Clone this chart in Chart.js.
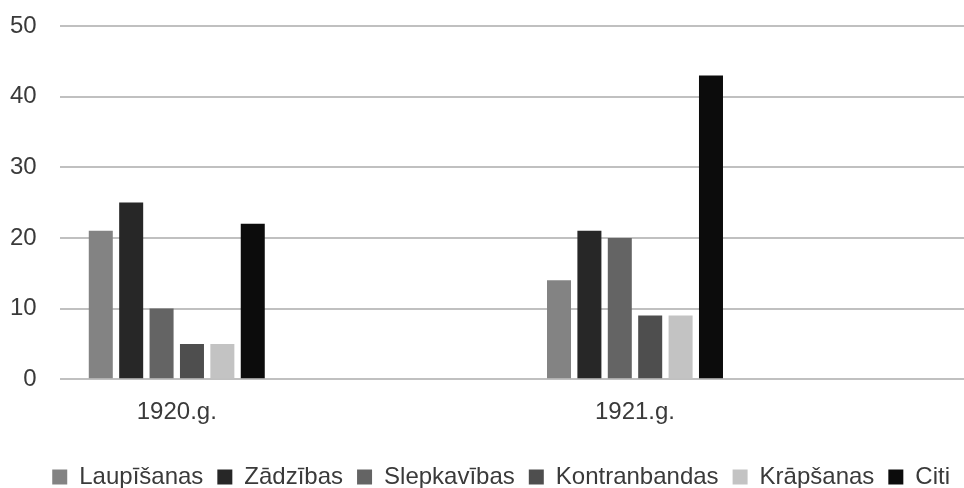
<!DOCTYPE html>
<html lang="lv">
<head>
  <meta charset="UTF-8" />
  <title>Noziegumi 1920.g. un 1921.g.</title>
  <script src="https://cdn.jsdelivr.net/npm/chart.js"></script>
  <style>
    html, body {
      margin: 0;
      padding: 0;
      background: #ffffff;
    }

    .wrap {
      width: 964px;
      height: 488px;
    }
  </style>
</head>
<body>

<div class="wrap">
  <canvas id="crimeChart"></canvas>
</div>

<script>
  // categories and series
  const years = ['1920.g.', '1921.g.'];
  const seriesNames = ['Laupīšanas', 'Zādzības', 'Slepkavības', 'Kontranbandas', 'Krāpšanas', 'Citi'];

  const laupisanas = [21, 14];
  const zadzibas = [25, 21];
  const slepkavibas = [10, 20];
  const kontrabandas = [5, 9];
  const krapsanas = [5, 9];
  const citi = [22, 43];

  const yTicks = [0, 10, 20, 30, 40, 50];

  const seriesValues = [laupisanas, zadzibas, slepkavibas, kontrabandas, krapsanas, citi];
  const seriesColors = ['#838383', '#272727', '#646464', '#4e4e4e', '#c3c3c3', '#0c0c0c'];

  const font = "'Liberation Sans', Arial, sans-serif";

  const datasets = seriesNames.map((name, i) => ({
    label: name,
    data: seriesValues[i].map((v, j) => ({ x: j, y: v })),
    backgroundColor: seriesColors[i],
    borderWidth: 0,
    categoryPercentage: 0.398,
    barPercentage: 0.79
  }));

  const ctx = document.getElementById('crimeChart').getContext('2d');

  new Chart(ctx, {
    type: 'bar',
    data: { datasets },
    options: {
      responsive: true,
      maintainAspectRatio: false,
      animation: false,
      layout: { padding: { top: 26, left: -13, right: 0, bottom: -11 } },
      plugins: {
        tooltip: { enabled: false },
        legend: {
          position: 'bottom',
          align: 'end',
          labels: {
            color: '#3a3a3a',
            font: { family: font, size: 24 },
            boxWidth: 15,
            boxHeight: 15,
            padding: 14
          }
        }
      },
      scales: {
        x: {
          type: 'linear',
          offset: false,
          min: -0.2555,
          max: 1.718,
          grid: { display: false },
          border: { display: false },
          afterBuildTicks: scale => {
            scale.ticks = years.map((_, i) => ({ value: i }));
          },
          afterFit: scale => {
            scale.height += 13;
          },
          ticks: {
            color: '#3a3a3a',
            font: { family: font, size: 24 },
            padding: 11,
            callback: value => years[value]
          }
        },
        y: {
          min: 0,
          max: 50,
          afterBuildTicks: scale => {
            scale.ticks = yTicks.map(v => ({ value: v }));
          },
          afterFit: scale => {
            scale.paddingTop = 0;
            scale.paddingBottom = 0;
          },
          grid: { color: '#c0c0c0', lineWidth: 2, drawTicks: false },
          border: { display: false },
          ticks: {
            color: '#3a3a3a',
            font: { family: font, size: 24 },
            padding: 23
          }
        }
      }
    }
  });
</script>

</body>
</html>
